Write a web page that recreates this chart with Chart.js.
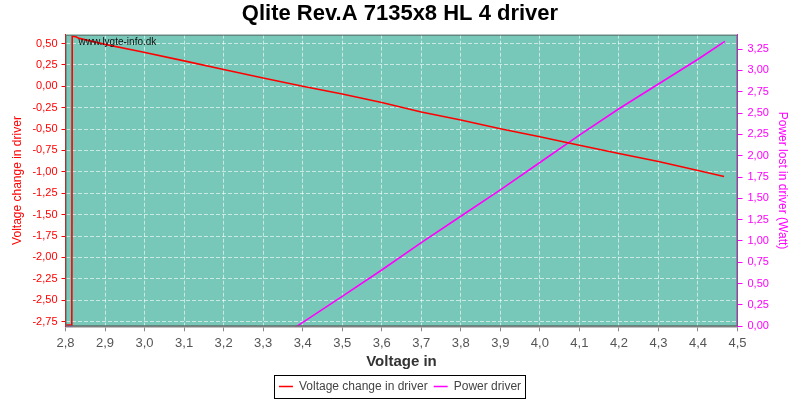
<!DOCTYPE html>
<html>
<head>
<meta charset="utf-8">
<script src="https://cdn.jsdelivr.net/npm/chart.js@4/dist/chart.umd.min.js"></script>
<style>
  html, body { margin: 0; padding: 0; background: #ffffff; }
  canvas { display: block; }
</style>
</head>
<body>
<canvas id="c" width="800" height="400"></canvas>
<script>
// ---- data ----
const chartTitle = "Qlite Rev.A 7135x8 HL 4 driver";
const xAxisTitle = "Voltage in";
const leftAxisTitle = "Voltage change in driver";
const rightAxisTitle = "Power lost in driver (Watt)";
const watermark = "www.lygte-info.dk";

const changeVin = [2.800, 2.816, 2.817, 2.826, 2.835, 2.90, 2.989, 3.10, 3.20, 3.30, 3.40, 3.50, 3.60, 3.70, 3.80, 3.90, 4.00, 4.10, 4.20, 4.30, 4.40, 4.466];
const changeVal = [-2.79, -2.79, 0.585, 0.58, 0.56, 0.49, 0.407, 0.297, 0.196, 0.098, 0.0, -0.09, -0.19, -0.30, -0.394, -0.497, -0.59, -0.688, -0.786, -0.88, -0.985, -1.055];

const powerVin = [2.800, 2.816, 2.83, 3.385, 3.50, 3.60, 3.70, 3.80, 3.90, 4.00, 4.10, 4.20, 4.30, 4.40, 4.468];
const powerVal = [0.0, 0.0, -1.4, 0.0, 0.35, 0.66, 0.98, 1.29, 1.60, 1.92, 2.24, 2.55, 2.84, 3.13, 3.34];

const xTicks = [2.8, 2.9, 3.0, 3.1, 3.2, 3.3, 3.4, 3.5, 3.6, 3.7, 3.8, 3.9, 4.0, 4.1, 4.2, 4.3, 4.4, 4.5];
const leftTicks = [-2.75, -2.5, -2.25, -2.0, -1.75, -1.5, -1.25, -1.0, -0.75, -0.5, -0.25, 0.0, 0.25, 0.5];
const rightTicks = [0.0, 0.25, 0.5, 0.75, 1.0, 1.25, 1.5, 1.75, 2.0, 2.25, 2.5, 2.75, 3.0, 3.25];

const seriesNames = ["Voltage change in driver", "Power driver"];
const seriesColors = ["#ff0000", "#ff00ff"];

// ---- chart ----
const FONT = "'Liberation Sans', Arial, sans-serif";
const fmt = (d) => (v) => Number(v).toFixed(d).replace('.', ',');
const setTicks = (arr) => (scale) => { scale.ticks = arr.map(v => ({ value: v })); };

const bgPlugin = {
  id: 'plotbg',
  afterLayout(chart) {
    if (chart.legend) { chart.legend.top += 2.5; chart.legend.bottom += 2.5; }
  },
  beforeDraw(chart) {
    const { ctx, chartArea: a } = chart;
    ctx.save();
    ctx.fillStyle = '#78c8b9';
    ctx.fillRect(a.left, a.top, a.right - a.left, a.bottom - a.top);
    ctx.restore();
  },
  afterDatasetsDraw(chart) {
    const { ctx, chartArea: a } = chart;
    ctx.save();
    ctx.strokeStyle = '#5a6a66';
    ctx.lineWidth = 1;
    ctx.strokeRect(a.left + 0.5, a.top + 0.5, a.right - a.left - 1, a.bottom - a.top - 1);
    ctx.fillStyle = '#111';
    ctx.font = "10px " + FONT;
    ctx.textBaseline = 'middle';
    ctx.textAlign = 'left';
    ctx.fillText(watermark, a.left + 13, a.top + 7.5);
    ctx.restore();
  },
  afterDraw(chart) {
    const lg = chart.legend;
    if (!lg || !lg.legendHitBoxes || !lg.legendHitBoxes.length) return;
    const hb = lg.legendHitBoxes;
    let l = Infinity, r = -Infinity, t = Infinity, b = -Infinity;
    hb.forEach(h => { l = Math.min(l, h.left); r = Math.max(r, h.left + h.width); t = Math.min(t, h.top); b = Math.max(b, h.top + h.height); });
    const cy = (t + b) / 2;
    const { ctx } = chart;
    ctx.save();
    ctx.strokeStyle = '#000';
    ctx.lineWidth = 1;
    ctx.strokeRect(Math.round(l - 5) + 0.5, Math.round(cy - 11.5) + 0.5, Math.round(r - l + 9), 23);
    ctx.restore();
  }
};

new Chart(document.getElementById('c'), {
  type: 'line',
  data: {
    datasets: [
      {
        label: seriesNames[0],
        data: changeVin.map((x, i) => ({ x: x, y: changeVal[i] })),
        borderColor: seriesColors[0],
        backgroundColor: seriesColors[0],
        borderWidth: 1.6,
        pointRadius: 0,
        tension: 0,
        yAxisID: 'yL'
      },
      {
        label: seriesNames[1],
        data: powerVin.map((x, i) => ({ x: x, y: powerVal[i] })),
        borderColor: seriesColors[1],
        backgroundColor: seriesColors[1],
        borderWidth: 1.6,
        pointRadius: 0,
        tension: 0,
        yAxisID: 'yR'
      }
    ]
  },
  options: {
    responsive: false,
    animation: false,
    layout: { padding: 0 },
    plugins: {
      title: {
        display: true,
        text: chartTitle,
        color: '#000',
        font: { family: FONT, size: 22, weight: 'bold', lineHeight: 1.2 },
        padding: { top: 0.5, bottom: 7.8 }
      },
      legend: {
        display: true,
        position: 'bottom',
        labels: {
          color: '#444',
          font: { family: FONT, size: 12 },
          usePointStyle: true,
          pointStyle: 'line',
          pointStyleWidth: 14,
          padding: 6
        }
      },
      tooltip: { enabled: false }
    },
    scales: {
      x: {
        type: 'linear',
        min: 2.8,
        max: 4.5,
        afterBuildTicks: setTicks(xTicks),
        afterFit(scale) { scale.height = 45.7; },
        ticks: { color: '#555', font: { family: FONT, size: 13 }, padding: 4, maxRotation: 0, autoSkip: false, callback: fmt(1) },
        grid: { color: 'rgba(255,255,255,0.6)', lineWidth: 1, tickColor: '#888', tickLength: 5 },
        border: { color: '#888', width: 1.5, dash: [4, 2] },
        title: { display: true, text: xAxisTitle, color: '#333', font: { family: FONT, size: 15, weight: 'bold', lineHeight: 1.2 }, padding: { top: 0, bottom: 1.5 } }
      },
      yL: {
        type: 'linear',
        position: 'left',
        min: -2.805,
        max: 0.603,
        afterBuildTicks: setTicks(leftTicks),
        afterFit(scale) { scale.width = 65.5; },
        ticks: { color: '#ff0000', font: { family: FONT, size: 11 }, padding: 4, autoSkip: false, callback: fmt(2) },
        grid: { color: 'rgba(255,255,255,0.6)', lineWidth: 1, tickColor: '#ff0000', tickLength: 4 },
        border: { color: '#ff0000', width: 1, dash: [4, 2] },
        title: { display: true, text: leftAxisTitle, color: '#ff0000', font: { family: FONT, size: 12, lineHeight: 1.2 }, padding: { top: 10.8, bottom: 0 } }
      },
      yR: {
        type: 'linear',
        position: 'right',
        min: 0,
        max: 3.418,
        afterBuildTicks: setTicks(rightTicks),
        afterFit(scale) { scale.width = 62.5; },
        ticks: { color: '#ff00ff', font: { family: FONT, size: 11 }, padding: 5, autoSkip: false, callback: fmt(2) },
        grid: { drawOnChartArea: false, tickColor: '#ff00ff', tickLength: 5 },
        border: { color: '#ff00ff', width: 1 },
        title: { display: true, text: rightAxisTitle, color: '#ff00ff', font: { family: FONT, size: 12, lineHeight: 1.2 }, padding: { top: 10.8, bottom: 0 } }
      }
    }
  },
  plugins: [bgPlugin]
});
</script>
</body>
</html>
